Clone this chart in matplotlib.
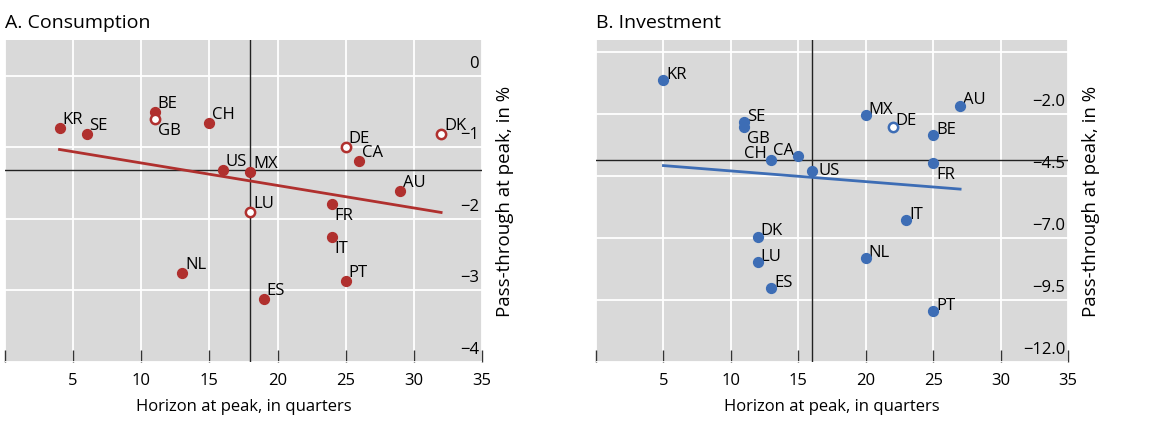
import numpy as np
import matplotlib
matplotlib.use("Agg")
import matplotlib.pyplot as plt

plt.rcParams['font.family'] = ['Open Sans', 'DejaVu Sans']
plt.rcParams['axes.unicode_minus'] = True

# A. Consumption
cons_codes = ["KR", "SE", "BE", "GB", "CH", "US", "MX", "LU", "DE", "CA",
              "DK", "AU", "FR", "IT", "PT", "NL", "ES"]
cons_x = [4, 6, 11, 11, 15, 16, 18, 18, 25, 26, 32, 29, 24, 24, 25, 13, 19]
cons_y = [-0.73, -0.81, -0.50, -0.60, -0.66, -1.31, -1.35, -1.91, -0.99, -1.19,
          -0.81, -1.61, -1.79, -2.25, -2.87, -2.76, -3.12]
cons_open = ["GB", "LU", "DE", "DK"]
cons_below = ["GB", "FR", "IT"]
cons_trend_x = [4, 32]
cons_trend_y = [-1.03, -1.91]
cons_yticks = [0, -1, -2, -3, -4]

# B. Investment
inv_codes = ["KR", "SE", "GB", "MX", "DE", "AU", "BE", "CH", "CA", "US",
             "FR", "IT", "DK", "LU", "NL", "ES", "PT"]
inv_x = [5, 11, 11, 20, 22, 27, 25, 13, 15, 16, 25, 23, 12, 12, 20, 13, 25]
inv_y = [-0.61, -2.33, -2.50, -2.03, -2.50, -1.65, -2.85, -3.83, -3.68, -4.27,
         -3.95, -6.27, -6.94, -7.98, -7.81, -9.03, -9.96]
inv_open = ["DE"]
inv_below = ["GB", "FR"]
inv_left = ["CH", "CA"]
inv_mid = ["US"]
inv_trend_x = [5, 27]
inv_trend_y = [-4.07, -5.02]
inv_yticks = [0.5, -2.0, -4.5, -7.0, -9.5, -12.0]

red = "#B0302E"
blue = "#3D6DB5"
bg = "#D9D9D9"

fig = plt.figure(figsize=(11.65, 4.23), dpi=100)
axA = fig.add_axes([5 / 1165, 61 / 423, 477 / 1165, 322 / 423])
axB = fig.add_axes([596 / 1165, 61 / 423, 472 / 1165, 322 / 423])


def panel(ax, title, codes, xs, ys, opens, below, left, mid, tx, ty,
          yticks, ylim, fmt, show_top, color, lift):
    ax.set_facecolor(bg)
    for s in ax.spines.values():
        s.set_visible(False)
    ax.set_xlim(0, 35)
    ax.set_ylim(*ylim)
    ax.set_xticks([0, 5, 10, 15, 20, 25, 30, 35])
    ax.set_xticklabels([""] + [str(v) for v in range(5, 36, 5)])
    ax.tick_params(axis='x', direction='in', length=9, width=1, color="#333333",
                   labelsize=12, pad=8)
    ax.set_yticks(yticks)
    ax.set_yticklabels([])
    ax.tick_params(axis='y', length=0)
    ax.grid(True, color="white", linewidth=1.3)
    ax.set_axisbelow(True)
    for i, v in enumerate(yticks):
        if i == 0 and not show_top:
            continue
        ax.annotate(fmt.format(v).replace("-", "\u2212"), xy=(1, v),
                    xycoords=ax.get_yaxis_transform(), xytext=(-2, 3),
                    textcoords='offset points', ha='right', va='bottom',
                    fontsize=12)
    ax.axhline(np.median(ys), color="#222222", linewidth=1, zorder=2)
    ax.axvline(np.median(xs), color="#222222", linewidth=1, zorder=2)
    ax.plot(tx, ty, color=color, linewidth=2, zorder=3)
    for c, x, y in zip(codes, xs, ys):
        if c in opens:
            ax.scatter(x, y, s=45, facecolor="white", edgecolor=color,
                       linewidth=1.8, zorder=4)
        else:
            ax.scatter(x, y, s=50, color=color, zorder=4)
        if c in below:
            ax.annotate(c, (x, y), xytext=(2, -3), textcoords='offset points',
                        ha='left', va='top', fontsize=12)
        elif c in left:
            ax.annotate(c, (x, y), xytext=(-3, lift), textcoords='offset points',
                        ha='right', va='bottom', fontsize=12)
        elif c in mid:
            ax.annotate(c, (x, y), xytext=(5, 0), textcoords='offset points',
                        ha='left', va='center', fontsize=12)
        else:
            ax.annotate(c, (x, y), xytext=(2, lift), textcoords='offset points',
                        ha='left', va='bottom', fontsize=12)
    ax.set_title(title, loc='left', fontsize=14, pad=9, x=0)
    ax.set_xlabel("Horizon at peak, in quarters", fontsize=12, labelpad=7)
    ax.yaxis.set_label_position("right")
    ax.set_ylabel("Pass-through at peak, in %", fontsize=13.5, labelpad=10)


panel(axA, "A. Consumption", cons_codes, cons_x, cons_y, cons_open, cons_below,
      [], [], cons_trend_x, cons_trend_y, cons_yticks, (-4, 0.5), "{:.0f}",
      True, red, 0)
panel(axB, "B. Investment", inv_codes, inv_x, inv_y, inv_open, inv_below,
      inv_left, inv_mid, inv_trend_x, inv_trend_y, inv_yticks, (-12, 1),
      "{:.1f}", False, blue, -2)

fig.savefig("out.png", dpi=100)
